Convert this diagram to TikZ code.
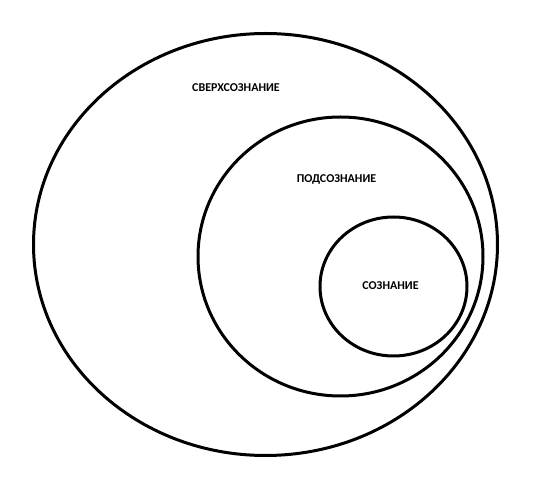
\documentclass[tikz,border=0pt]{standalone}
\usepackage{fontspec}
\setmainfont{Carlito}
\usetikzlibrary{shapes.geometric}

\begin{document}
\begin{tikzpicture}[x=1pt,y=-1pt]
		\tikzstyle{zone}=[draw,ellipse,line width=3pt,inner sep=0pt]
		\tikzstyle{lbl}=[font=\fontsize{12}{14}\selectfont\bfseries]

		\useasboundingbox (0,0) rectangle (542,494);

		\node (outer) at (265.5,244.5) [zone,minimum width=464pt,minimum height=422pt] {};
		\node (middle) at (340.5,256.5) [zone,minimum width=285pt,minimum height=279pt] {};
		\node (inner) at (393.5,286.5) [zone,minimum width=147pt,minimum height=139pt] {};

		\node (supra) at (236,88) [lbl] {СВЕРХСОЗНАНИЕ};
		\node (sub) at (336.5,179) [lbl] {ПОДСОЗНАНИЕ};
		\node (cons) at (390.5,286) [lbl] {СОЗНАНИЕ};
	\end{tikzpicture}
\end{document}
